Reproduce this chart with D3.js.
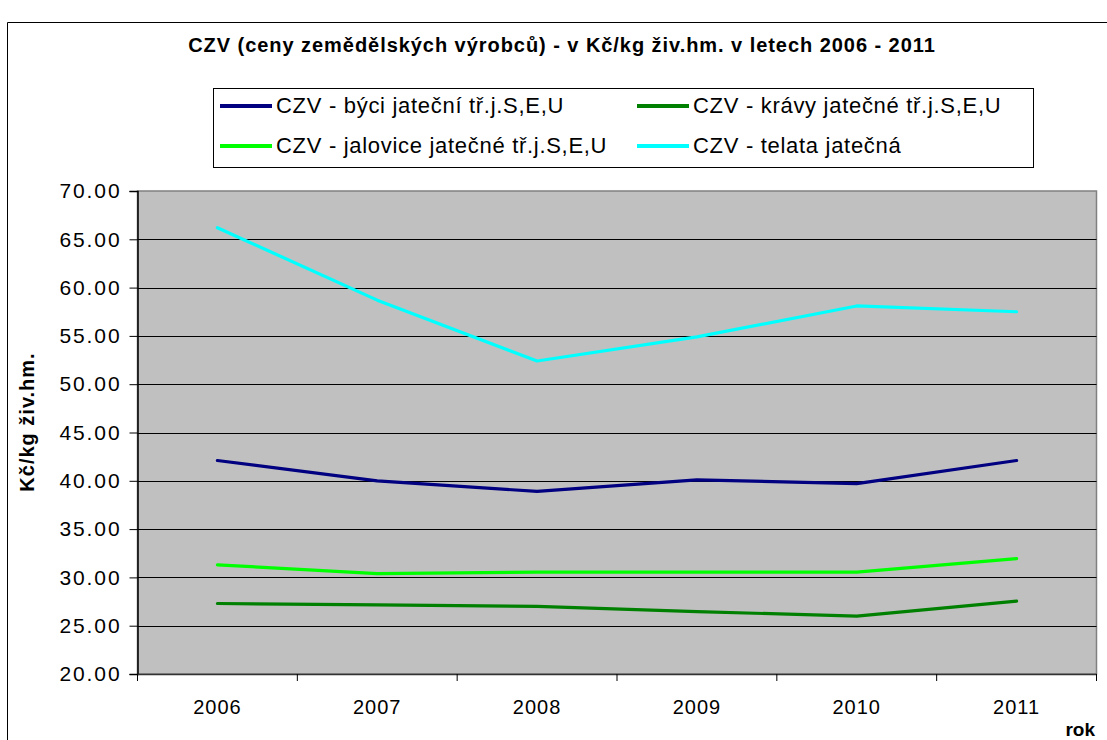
<!DOCTYPE html>
<html><head><meta charset="utf-8">
<script src="https://cdn.jsdelivr.net/npm/d3@7"></script>
<style>body{margin:0;background:#fff;} svg{display:block;} text{font-family:"Liberation Sans",Arial,sans-serif;}</style>
</head><body>
<svg id="c" width="1107" height="740"></svg>
<script>
const years = ["2006","2007","2008","2009","2010","2011"];
const seriesNames = ["CZV - býci jateční tř.j.S,E,U","CZV - krávy jatečné tř.j.S,E,U","CZV - jalovice jatečné tř.j.S,E,U","CZV - telata jatečná"];
const byci = [42.1, 40.0, 38.9, 40.1, 39.7, 42.1];
const kravy = [27.3, 27.15, 27.0, 26.45, 26.0, 27.55];
const jalovice = [31.3, 30.4, 30.55, 30.55, 30.55, 31.95];
const telata = [66.2, 58.7, 52.4, 54.9, 58.1, 57.5];
const colors = ["#000080","#008000","#00FF00","#00FFFF"];
const yTicks = [20,25,30,35,40,45,50,55,60,65,70];
const titleText = "CZV (ceny zemědělských výrobců) - v Kč/kg živ.hm. v letech 2006 - 2011";
const yTitle = "Kč/kg živ.hm.";
const xTitle = "rok";

const series = [byci, kravy, jalovice, telata];
const svg = d3.select("#c");
const L = 137.5, R = 1096.5, T = 191, B = 674;

// outer chart border (left & top)
svg.append("path").attr("d", `M7.5,740 V22.5 H1107`).attr("fill","none").attr("stroke","#000").attr("stroke-width",1);

const x = d3.scaleBand().domain(years).range([L, R]).padding(0);
const y = d3.scaleLinear().domain([20,70]).range([B, T]);

// plot area
svg.append("rect").attr("x",L).attr("y",T).attr("width",R-L).attr("height",B-T).attr("fill","#C0C0C0").attr("stroke","#808080").attr("stroke-width",1.5);

// gridlines
svg.append("g").selectAll("line").data(yTicks.filter(v=>v>20 && v<70)).join("line")
  .attr("x1",L).attr("x2",R).attr("y1",d=>Math.round(y(d))+0.5).attr("y2",d=>Math.round(y(d))+0.5)
  .attr("stroke","#000").attr("stroke-width",1);

// y axis
const yAxis = d3.axisLeft(y).tickValues(yTicks).tickFormat(d3.format(".2f")).tickSize(8).tickPadding(8);
const gy = svg.append("g").attr("transform",`translate(${L},0)`).call(yAxis);
gy.select(".domain").attr("stroke","#000").attr("stroke-width",1.5);
gy.selectAll(".tick line").attr("stroke","#000");
gy.selectAll(".tick text").attr("font-size",21).attr("letter-spacing","1.9px").attr("fill","#000").attr("font-family","Liberation Sans, Arial, sans-serif");

// x axis
const xAxis = d3.axisBottom(x).tickSize(0).tickPadding(26);
const gx = svg.append("g").attr("transform",`translate(0,${B})`).call(xAxis);
gx.select(".domain").attr("stroke","#333").attr("stroke-width",1.5);
gx.selectAll(".tick text").attr("font-size",20).attr("letter-spacing","1px").attr("fill","#000").attr("font-family","Liberation Sans, Arial, sans-serif");
// category boundary ticks
const bounds = years.map(d=>x(d)).concat([R]);
svg.append("g").selectAll("line").data(bounds).join("line")
  .attr("x1",d=>d).attr("x2",d=>d).attr("y1",B).attr("y2",B+7).attr("stroke","#000").attr("stroke-width",1);

// lines
const line = d3.line().x((d,i)=>x(years[i])+x.bandwidth()/2).y(d=>y(d));
svg.append("g").selectAll("path").data(series).join("path")
  .attr("d",d=>line(d)).attr("fill","none").attr("stroke",(d,i)=>colors[i]).attr("stroke-width",3.2)
  .attr("stroke-linejoin","round").attr("stroke-linecap","round");

// title
svg.append("text").attr("x",562).attr("y",52).attr("text-anchor","middle").attr("font-size",20).attr("letter-spacing","0.95px").attr("font-weight","bold").attr("fill","#000").text(titleText);

// axis titles
svg.append("text").attr("transform","translate(34,422) rotate(-90)").attr("text-anchor","middle").attr("font-size",20).attr("letter-spacing","1px").attr("font-weight","bold").text(yTitle);
svg.append("text").attr("x",1095).attr("y",736).attr("text-anchor","end").attr("font-size",19).attr("font-weight","bold").text(xTitle);

// legend
svg.append("rect").attr("x",213.5).attr("y",88.5).attr("width",820).attr("height",79).attr("fill","#fff").attr("stroke","#000").attr("stroke-width",1);
const legPos = [[220,106],[637,106],[220,146],[637,146]];
const lg = svg.append("g").selectAll("g").data(seriesNames).join("g").attr("transform",(d,i)=>`translate(${legPos[i][0]},${legPos[i][1]})`);
lg.append("line").attr("x1",0).attr("x2",52).attr("y1",0).attr("y2",0).attr("stroke",(d,i)=>colors[i]).attr("stroke-width",4);
lg.append("text").attr("x",56).attr("y",7).attr("font-size",22).attr("letter-spacing","0.7px").attr("fill","#000").text(d=>d);
</script>
</body></html>
